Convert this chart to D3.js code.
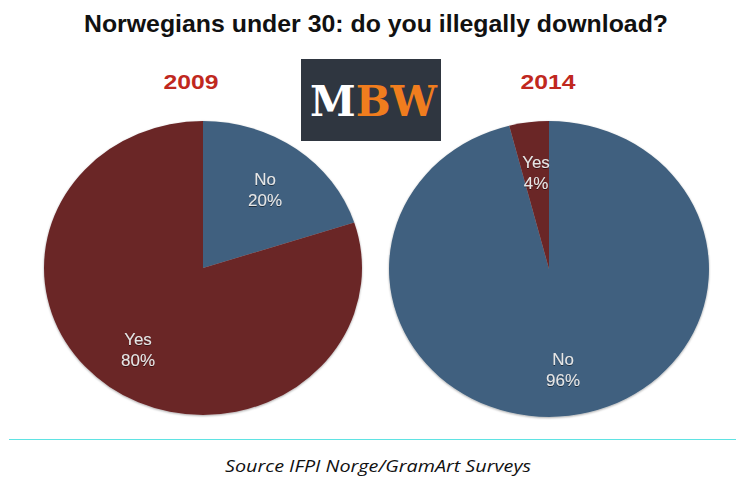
<!DOCTYPE html>
<html><head><meta charset="utf-8">
<script src="https://cdn.jsdelivr.net/npm/d3@7"></script>
<style>body{margin:0;background:#fff}svg{display:block}</style>
</head><body>
<svg id="c" width="736" height="477"></svg>
<script>
const title = "Norwegians under 30: do you illegally download?";
const source = "Source IFPI Norge/GramArt Surveys";
const years = ["2009", "2014"];
const categories = ["No", "Yes"];
const values2009 = [20, 80];
const values2014 = [96, 4];
const colors = {No: "#41617f", Yes: "#6a2628"};

const svg = d3.select("#c");
const defs = svg.append("defs");
const f = defs.append("filter").attr("id","sh").attr("x","-10%").attr("y","-10%").attr("width","120%").attr("height","120%");
f.append("feDropShadow").attr("dx",0).attr("dy",1).attr("stdDeviation",1.2).attr("flood-color","#000").attr("flood-opacity",0.35);
const tf = defs.append("filter").attr("id","tsh");
tf.append("feDropShadow").attr("dx",0).attr("dy",1).attr("stdDeviation",0.6).attr("flood-color","#000").attr("flood-opacity",0.5);

svg.append("text").attr("x",376).attr("y",32).attr("text-anchor","middle")
  .attr("font-family","Liberation Sans, Arial, sans-serif").attr("font-weight","bold")
  .attr("font-size",24).attr("textLength",584).attr("lengthAdjust","spacingAndGlyphs")
  .attr("fill","#111").text(title);

const pies = [
  {year: years[0], values: values2009, cx: 203, cy: 268, rx: 159, ry: 147, yearX: 191,
   labelPos: [[265,185],[138,345]]},
  {year: years[1], values: values2014, cx: 549, cy: 269, rx: 160, ry: 148, yearX: 548,
   labelPos: [[563,365],[536,168]]}
];

const pieGen = d3.pie().sort(null).value(d => d.v);
pies.forEach(p => {
  const data = categories.map((c,i) => ({c, v: p.values[i]}));
  const arcs = pieGen(data);
  const arc = d3.arc().innerRadius(0).outerRadius(p.rx);
  const g = svg.append("g")
    .attr("transform", `translate(${p.cx},${p.cy}) scale(1,${p.ry/p.rx})`)
    .attr("filter","url(#sh)");
  g.selectAll("path").data(arcs).join("path")
    .attr("d", arc).attr("fill", d => colors[d.data.c]);
  svg.append("text").attr("x", p.yearX).attr("y", 89).attr("text-anchor","middle")
    .attr("font-family","Liberation Sans, Arial, sans-serif").attr("font-weight","bold")
    .attr("font-size",20).attr("textLength",55).attr("lengthAdjust","spacingAndGlyphs")
    .attr("fill","#c0281e").text(p.year);
  arcs.forEach((a,i) => {
    const [lx, ly] = p.labelPos[i];
    const t = svg.append("text").attr("x", lx).attr("y", ly).attr("text-anchor","middle")
      .attr("font-family","Liberation Sans, Arial, sans-serif").attr("font-size",17)
      .attr("fill","#e6e6e6").attr("filter","url(#tsh)");
    t.append("tspan").attr("x", lx).text(a.data.c);
    t.append("tspan").attr("x", lx).attr("dy", 20.5).text(a.data.v + "%");
  });
});

// logo
svg.append("rect").attr("x",301).attr("y",59).attr("width",140).attr("height",82).attr("fill","#2f3640");
const logo = svg.append("text").attr("x",310).attr("y",116)
  .attr("font-family","DejaVu Serif, serif").attr("font-weight","bold").attr("font-size",42)
  .attr("textLength",127).attr("lengthAdjust","spacingAndGlyphs");
logo.append("tspan").attr("fill","#ffffff").text("M");
logo.append("tspan").attr("fill","#f07d1e").text("BW");

svg.append("line").attr("x1",9).attr("x2",736).attr("y1",439.5).attr("y2",439.5)
  .attr("stroke","#5fe3e3").attr("stroke-width",1);

svg.append("text").attr("x",378).attr("y",471.5).attr("text-anchor","middle")
  .attr("font-family","Open Sans, sans-serif").attr("font-style","italic")
  .attr("font-size",16.5).attr("textLength",306).attr("lengthAdjust","spacingAndGlyphs")
  .attr("fill","#111").text(source);
</script>
</body></html>
